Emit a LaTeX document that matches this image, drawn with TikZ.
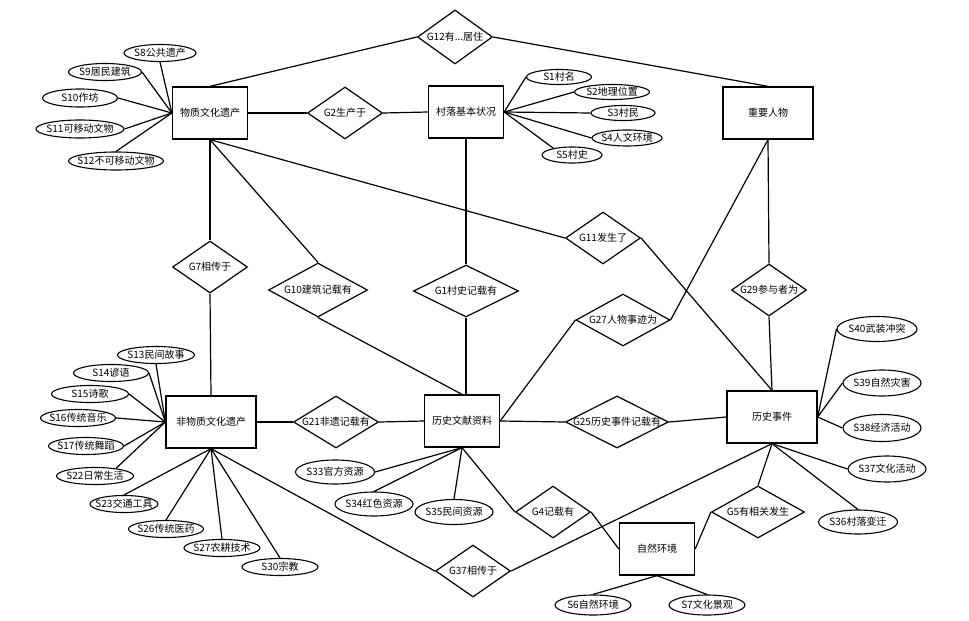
\documentclass[tikz,border=0pt]{standalone}
\usepackage{fontspec}
\setmainfont{Noto Sans CJK SC}
\usepackage{tikz}
\usetikzlibrary{shapes.geometric}
\newcommand{\zw}[1]{\makebox[0pt]{#1}}

\begin{document}
\begin{tikzpicture}[x=1pt,y=-1pt,
    entity/.style={draw,line width=1.3pt,rectangle,minimum width=75pt,minimum height=52pt,inner sep=0pt},
    rel/.style={draw,line width=1.2pt,diamond,minimum width=75pt,minimum height=52pt,inner sep=0pt},
    attr/.style={draw,line width=1.1pt,ellipse,minimum width=76pt,minimum height=17pt,inner sep=0pt},
    link/.style={line width=1.2pt},
    font=\fontsize{10pt}{12pt}\selectfont]
    \useasboundingbox (0,0) rectangle (969,621);

    % entities
    \node[entity] (wz) at (210,113) {物质文化遗产};
    \node[entity] (cl) at (466,112) {村落基本状况};
    \node[entity,minimum width=90pt] (zr) at (768,113) {重要人物};
    \node[entity,minimum width=90pt] (fwz) at (211,422) {非物质文化遗产};
    \node[entity] (ls) at (462,421) {历史文献资料};
    \node[entity,minimum width=90pt] (sj) at (772,417) {历史事件};
    \node[entity] (zh) at (657,549) {自然环境};

    % relations
    \node[rel,minimum height=54pt] (g12) at (455,37) {\zw{G12有...居住}};
    \node[rel] (g2) at (345,113) {\zw{G2生产于}};
    \node[rel] (g7) at (210,267) {\zw{G7相传于}};
    \node[rel,minimum width=99pt,minimum height=54pt] (g10) at (318,290) {\zw{G10建筑记载有}};
    \node[rel,minimum width=105pt] (g1) at (466,291) {\zw{G1村史记载有}};
    \node[rel] (g11) at (603,238) {\zw{G11发生了}};
    \node[rel,minimum width=94pt] (g27) at (623,320) {\zw{G27人物事迹为}};
    \node[rel] (g29) at (769,290) {\zw{G29参与者为}};
    \node[rel,minimum width=85pt] (g21) at (336,422) {\zw{G21非遗记载有}};
    \node[rel,minimum width=103pt] (g25) at (617,422) {\zw{G25历史事件记载有}};
    \node[rel] (g4) at (553,512) {\zw{G4记载有}};
    \node[rel] (g37) at (473,571) {\zw{G37相传于}};
    \node[rel,minimum width=93pt] (g5) at (758,512) {\zw{G5有相关发生}};

    % attributes
    \node[attr,minimum width=72pt] (s8) at (160,53) {\zw{S8公共遗产}};
    \node[attr,minimum width=73pt] (s9) at (105,72) {\zw{S9居民建筑}};
    \node[attr,minimum width=75pt,minimum height=18pt] (s10) at (80,98) {\zw{S10作坊}};
    \node[attr,minimum width=88pt,minimum height=18pt] (s11) at (80,129) {\zw{S11可移动文物}};
    \node[attr,minimum width=95pt,minimum height=18pt] (s12) at (116,161) {\zw{S12不可移动文物}};
    \node[attr,minimum width=65pt,minimum height=15pt] (s1) at (559,77) {\zw{S1村名}};
    \node[attr,minimum width=75pt,minimum height=15pt] (s2) at (612,92) {\zw{S2地理位置}};
    \node[attr,minimum width=64pt,minimum height=15pt] (s3) at (623,113) {\zw{S3村民}};
    \node[attr,minimum width=70pt,minimum height=16pt] (s4) at (627,138) {\zw{S4人文环境}};
    \node[attr,minimum width=60pt,minimum height=16pt] (s5) at (572,155) {\zw{S5村史}};
    \node[attr,minimum width=77pt] (s13) at (156,355) {\zw{S13民间故事}};
    \node[attr,minimum width=75pt] (s14) at (111,373) {\zw{S14谚语}};
    \node[attr,minimum width=77pt] (s15) at (90,394) {\zw{S15诗歌}};
    \node[attr,minimum width=75pt] (s16) at (78,418) {\zw{S16传统音乐}};
    \node[attr,minimum width=75pt] (s17) at (86,446) {\zw{S17传统舞蹈}};
    \node[attr,minimum width=77pt] (s22) at (95,476) {\zw{S22日常生活}};
    \node[attr,minimum width=68pt] (s23) at (124,504) {\zw{S23交通工具}};
    \node[attr,minimum width=75pt] (s26) at (166,529) {\zw{S26传统医药}};
    \node[attr] (s27) at (222,548) {\zw{S27农耕技术}};
    \node[attr] (s30) at (280,567) {\zw{S30宗教}};
    \node[attr,minimum width=79pt,minimum height=24pt] (s33) at (335,472) {\zw{S33官方资源}};
    \node[attr,minimum width=78pt,minimum height=24pt] (s34) at (374,504) {\zw{S34红色资源}};
    \node[attr,minimum width=78pt,minimum height=25pt] (s35) at (454,512) {\zw{S35民间资源}};
    \node[attr,minimum height=20pt] (s6) at (593,605) {\zw{S6自然环境}};
    \node[attr,minimum height=20pt] (s7) at (707,605) {\zw{S7文化景观}};
    \node[attr,minimum width=80pt,minimum height=25pt] (s40) at (877,329) {\zw{S40武装冲突}};
    \node[attr,minimum width=78pt,minimum height=26pt] (s39) at (882,383) {\zw{S39自然灾害}};
    \node[attr,minimum width=78pt,minimum height=27pt] (s38) at (882,428) {\zw{S38经济活动}};
    \node[attr,minimum width=78pt,minimum height=26pt] (s37) at (887,469) {\zw{S37文化活动}};
    \node[attr,minimum width=79pt,minimum height=24pt] (s36) at (858,522) {\zw{S36村落变迁}};

    % relation links
    \draw[link] (g12.west) -- (wz.north);
    \draw[link] (g12.east) -- (zr.north);
    \draw[link] (wz.east) -- (g2.west);
    \draw[link] (g2.east) -- (cl.west);
    \draw[link] (wz.south) -- (g7.north);
    \draw[link] (g7.south) -- (fwz.north);
    \draw[link] (wz.south) -- (g10.north);
    \draw[link] (g10.south) -- (ls.north);
    \draw[link] (wz.south) -- (g11.west);
    \draw[link] (g11.east) -- (sj.north);
    \draw[link] (cl.south) -- (g1.north);
    \draw[link] (g1.south) -- (g1.south |- ls.north);
    \draw[link] (zr.south) -- (g29.north);
    \draw[link] (g29.south) -- (sj.north);
    \draw[link] (zr.south) -- (g27.east);
    \draw[link] (g27.west) -- (ls.east);
    \draw[link] (fwz.east) -- (g21.west);
    \draw[link] (g21.east) -- (ls.west);
    \draw[link] (ls.east) -- (g25.west);
    \draw[link] (g25.east) -- (sj.west);
    \draw[link] (ls.south) -- (g4.west);
    \draw[link] (g4.east) -- (zh.west);
    \draw[link] (zh.east) -- (g5.west);
    \draw[link] (g5.north) -- (sj.south);
    \draw[link] (fwz.south) -- (g37.west);
    \draw[link] (g37.east) -- (sj.south);

    % attribute links
    \draw[link] (wz.west) -- (s8.south);
    \draw[link] (wz.west) -- (s9.east);
    \draw[link] (wz.west) -- (s10.east);
    \draw[link] (wz.west) -- (s11.east);
    \draw[link] (wz.west) -- (s12.north);
    \draw[link] (cl.east) -- (s1.west);
    \draw[link] (cl.east) -- (s2.west);
    \draw[link] (cl.east) -- (s3.west);
    \draw[link] (cl.east) -- (s4.west);
    \draw[link] (cl.east) -- (s5.160);
    \draw[link] (fwz.west) -- (s13.south);
    \draw[link] (fwz.west) -- (s14.east);
    \draw[link] (fwz.west) -- (s15.east);
    \draw[link] (fwz.west) -- (s16.east);
    \draw[link] (fwz.west) -- (s17.east);
    \draw[link] (fwz.west) -- (s22.20);
    \draw[link] (fwz.south) -- (s23.north);
    \draw[link] (fwz.south) -- (s26.north);
    \draw[link] (fwz.south) -- (s27.north);
    \draw[link] (fwz.south) -- (s30.north);
    \draw[link] (ls.south) -- (s33.east);
    \draw[link] (ls.south) -- (s34.north);
    \draw[link] (ls.south) -- (s35.north);
    \draw[link] (zh.south) -- (s6.north);
    \draw[link] (zh.south) -- (s7.north);
    \draw[link] (sj.east) -- (s40.west);
    \draw[link] (sj.east) -- (s39.west);
    \draw[link] (sj.east) -- (s38.west);
    \draw[link] (sj.south) -- (s37.west);
    \draw[link] (sj.south) -- (s36.north);
\end{tikzpicture}
\end{document}
